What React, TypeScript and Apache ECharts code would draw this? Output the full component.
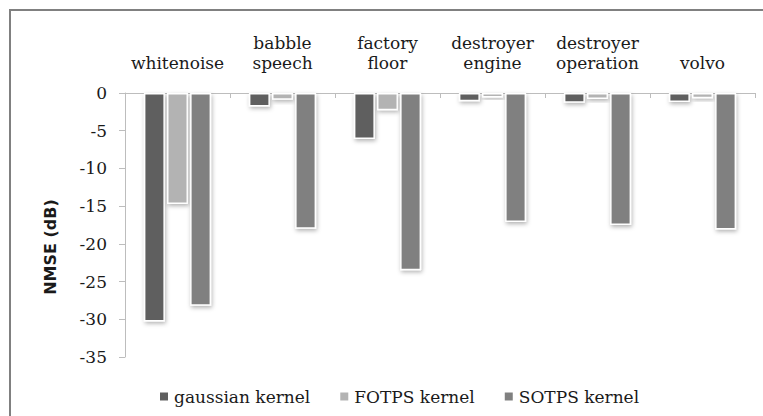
import React, { useEffect, useRef } from "react";
import * as echarts from "echarts";

const categories = [
  "whitenoise",
  "babble\nspeech",
  "factory\nfloor",
  "destroyer\nengine",
  "destroyer\noperation",
  "volvo",
];
const seriesNames = ["gaussian kernel", "FOTPS kernel", "SOTPS kernel"];
const gaussian = [-30.3, -1.8, -6.1, -1.1, -1.3, -1.2];
const fotps = [-14.7, -0.9, -2.3, -0.6, -0.8, -0.7];
const sotps = [-28.2, -18.0, -23.5, -17.1, -17.5, -18.1];
const colors = ["#5f5f5f", "#b3b3b3", "#808080"];
const yMin = -35;
const yMax = 0;
const yStep = 5;

const serif = "DejaVu Serif";

export default function App() {
  const ref = useRef<HTMLDivElement>(null);
  useEffect(() => {
    if (!ref.current) return;
    const chart = echarts.init(ref.current, undefined, { renderer: "svg" });
    const values = [gaussian, fotps, sotps];
    chart.setOption({
      animation: false,
      backgroundColor: "#ffffff",
      color: colors,
      grid: { left: 125, right: 8, top: 93, bottom: 59, containLabel: false },
      legend: {
        bottom: 6,
        left: 153,
        itemWidth: 10,
        itemHeight: 10,
        itemGap: 28,
        icon: "rect",
        data: seriesNames,
        textStyle: { fontFamily: serif, fontSize: 17, color: "#1a1a1a" },
      },
      xAxis: {
        type: "category",
        position: "top",
        data: categories,
        axisLine: { show: true, lineStyle: { color: "#bdbdbd", width: 1 } },
        axisTick: { show: true, inside: true, length: 5, lineStyle: { color: "#bdbdbd" } },
        axisLabel: {
          fontFamily: serif,
          fontSize: 17,
          color: "#1a1a1a",
          lineHeight: 20,
          margin: 20,
          interval: 0,
        },
      },
      yAxis: {
        type: "value",
        min: yMin,
        max: yMax,
        interval: yStep,
        splitLine: { show: false },
        axisLine: { show: true, lineStyle: { color: "#bdbdbd", width: 1 } },
        axisTick: { show: true, length: 6, lineStyle: { color: "#bdbdbd" } },
        axisLabel: {
          fontFamily: serif,
          fontSize: 17,
          color: "#1a1a1a",
          margin: 18,
        },
      },
      series: seriesNames.map((name, i) => ({
        name,
        type: "bar",
        data: values[i],
        barWidth: 21,
        barGap: "10%",
        itemStyle: {
          color: colors[i],
          borderColor: "#ffffff",
          borderWidth: 1.5,
          shadowColor: "rgba(0,0,0,0.3)",
          shadowBlur: 4,
          shadowOffsetX: 1,
          shadowOffsetY: 2,
        },
      })),
      graphic: [
        {
          type: "rect",
          shape: { x: 10, y: 10, width: 900, height: 600 },
          style: { fill: "none", stroke: "#808080", lineWidth: 2 },
          silent: true,
        },
        {
          type: "text",
          x: 50,
          y: 247,
          rotation: Math.PI / 2,
          style: {
            text: "NMSE (dB)",
            fontFamily: "DejaVu Sans",
            fontWeight: "bold",
            fontSize: 16,
            fill: "#1a1a1a",
            align: "center",
            verticalAlign: "middle",
          },
        },
      ],
    });
    return () => chart.dispose();
  }, []);
  return (
    <div
      ref={ref}
      style={{ position: "fixed", left: 0, top: 0, width: 763, height: 416 }}
    />
  );
}
